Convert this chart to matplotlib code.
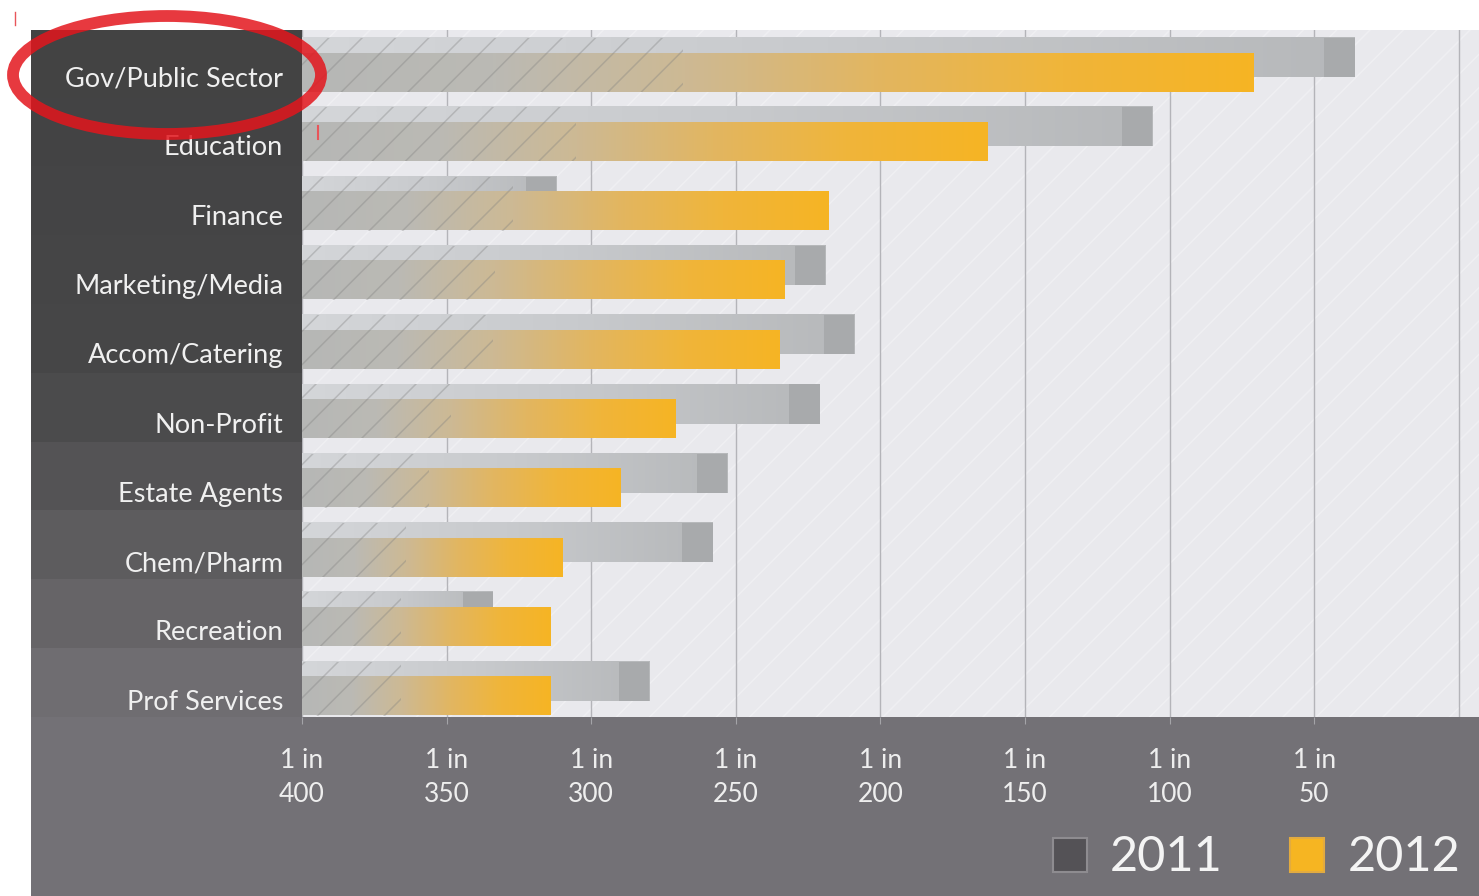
import numpy as np
import matplotlib
matplotlib.use("Agg")
import matplotlib.pyplot as plt
from matplotlib.colors import LinearSegmentedColormap
from matplotlib.patches import Rectangle, Ellipse
from matplotlib.lines import Line2D

# data: "1 in N" chance per sector
sectors = ["Gov/Public Sector", "Education", "Finance", "Marketing/Media",
           "Accom/Catering", "Non-Profit", "Estate Agents", "Chem/Pharm",
           "Recreation", "Prof Services"]
rate_2011 = [36, 106, 312, 219, 209, 221, 253, 258, 334, 280]
rate_2012 = [71, 163, 218, 233, 235, 271, 290, 310, 314, 314]
tick_vals = [400, 350, 300, 250, 200, 150, 100, 50]
years = ["2011", "2012"]

W, H = 1479, 896
plt.rcParams['font.family'] = ['Lato', 'DejaVu Sans']
plt.rcParams['hatch.linewidth'] = 1.1

def fx(px):
    return px / W

def fy(py):
    return 1 - py / H

fig = plt.figure(figsize=(W / 100, H / 100), dpi=100, facecolor='white')

# bottom panel + left label panel
fig.add_artist(Rectangle((fx(31), 0), fx(W) - fx(31), 1 - fy(717), transform=fig.transFigure,
                         fc='#737176', ec='none', zorder=0))
panel = fig.add_axes([fx(31), fy(717), fx(302) - fx(31), fy(30) - fy(717)])
panel.set_axis_off()
shade = np.linspace(0, 1, len(sectors)).reshape(-1, 1)
panel_cmap = LinearSegmentedColormap.from_list('pn', ['#434343', '#474748', '#6f6d71'])
panel.imshow(shade, cmap=panel_cmap, aspect='auto', extent=[0, 1, 0, 1], interpolation='nearest')

ax = fig.add_axes([fx(302), fy(717), fx(W) - fx(302), fy(30) - fy(717)])
ax.set_facecolor('#e9e9ed')
for s in ax.spines.values():
    s.set_visible(False)

# background hatch
ax.add_patch(Rectangle((0, 0), 1, 1, transform=ax.transAxes, fill=False,
                       hatch='/', ec=(1, 1, 1, 0.3), lw=0, zorder=0.5))

# grid
ax.vlines(tick_vals + [0], -1, 11, color='#b4b4b9', lw=1, zorder=1)

c11 = LinearSegmentedColormap.from_list('c11', ['#d4d6d9', '#c8cacd', '#b6b8ba'])
c12 = LinearSegmentedColormap.from_list('c12', ['#b6b7b6', '#bbbab4', '#cdb994',
                                                '#e2b661', '#f0b53a', '#f6b424'])
grad = np.linspace(0, 1, 256).reshape(1, -1)
off, h11, h12 = 0.108, 0.565, 0.55
cap = 10.5

for i, (a, b) in enumerate(zip(rate_2011, rate_2012)):
    # 2011 bar
    y0, y1 = i - off - h11 / 2, i - off + h11 / 2
    ax.imshow(grad, cmap=c11, aspect='auto', extent=[400, a, y1, y0], zorder=2,
              interpolation='bilinear')
    ax.add_patch(Rectangle((a + cap, y0), -cap, h11, fc='#a8aaac', ec='none', zorder=2.1))
    # 2012 bar
    y0, y1 = i + off - h12 / 2, i + off + h12 / 2
    ax.imshow(grad, cmap=c12, aspect='auto', extent=[400, b, y1, y0], zorder=3,
              interpolation='bilinear')
    ax.add_patch(Rectangle((400, i - off - h11 / 2), -(400 - b) * 0.4, h11 + 2 * off,
                           fill=False, hatch='/', ec=(0.5, 0.5, 0.5, 0.35), lw=0, zorder=3.5))

ax.set_xlim(400, -7)
ax.set_ylim(9.41, -0.505)

ax.set_xticks(tick_vals)
ax.set_xticklabels(["1 in\n%d" % v for v in tick_vals], color='#eeeeee', fontsize=19,
                   linespacing=1.45)
ax.tick_params(axis='x', length=5, color='#a4a4a8', pad=17)
ax.set_yticks(np.arange(len(sectors)) + 0.16)
ax.set_yticklabels(sectors, color='#f0f0f0', fontsize=19.5)
ax.tick_params(axis='y', length=0, pad=13.5)

# legend
leg_cols = ['#545256', '#f6b522']
leg_edges = ['#8e8c90', '#e2ab40']
for (sx, tx), yr, fc, ec in zip([(1053, 1110), (1290, 1348)], years, leg_cols, leg_edges):
    fig.add_artist(Rectangle((fx(sx), fy(872)), fx(34), 34 / H, transform=fig.transFigure,
                             fc=fc, ec=ec, lw=1.5, zorder=5))
    fig.text(fx(tx), fy(857), yr, color='#f4f4f4', fontsize=35, va='center', ha='left', zorder=5)

# red annotation
fig.add_artist(Ellipse((fx(167), fy(75)), fx(308), 118 / H, transform=fig.transFigure,
                       fill=False, ec='#e3161d', lw=8.5, alpha=0.85, zorder=10))
fig.add_artist(Line2D([fx(15), fx(15)], [fy(12), fy(25)], transform=fig.transFigure,
                      color='#e8555a', lw=1, zorder=10))
fig.add_artist(Line2D([fx(318), fx(318)], [fy(126), fy(139)], transform=fig.transFigure,
                      color='#e8555a', lw=1.5, zorder=10))

fig.savefig("out.png", dpi=100, facecolor='white')
